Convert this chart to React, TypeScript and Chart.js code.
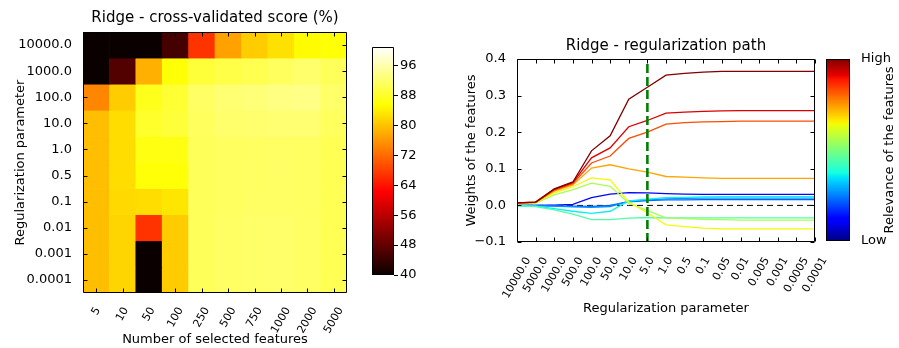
import React, { useEffect, useRef } from 'react';
import { Chart, registerables } from 'chart.js';

Chart.register(...registerables);

// ---------------- data ----------------
const FEATURE_COUNTS = ['5', '10', '50', '100', '250', '500', '750', '1000', '2000', '5000'];
const HEATMAP_ALPHAS = ['10000.0', '1000.0', '100.0', '10.0', '1.0', '0.5', '0.1', '0.01', '0.001', '0.0001'];

const SCORE_ALPHA_10000 = [40.0, 40.0, 40.0, 45.3, 66.9, 77.0, 80.9, 82.8, 85.2, 85.8];
const SCORE_ALPHA_1000 = [40.0, 46.5, 78.3, 85.8, 89.0, 89.8, 90.3, 91.2, 92.0, 91.0];
const SCORE_ALPHA_100 = [74.6, 80.9, 87.2, 88.6, 91.5, 92.4, 92.8, 93.4, 93.6, 91.8];
const SCORE_ALPHA_10 = [79.7, 82.4, 88.2, 89.0, 91.2, 92.0, 92.2, 92.4, 92.4, 91.2];
const SCORE_ALPHA_1 = [79.7, 82.4, 86.6, 86.6, 91.0, 91.3, 91.4, 91.6, 91.4, 90.6];
const SCORE_ALPHA_05 = [79.7, 82.4, 85.8, 85.8, 91.0, 91.3, 91.4, 91.6, 91.4, 90.6];
const SCORE_ALPHA_01 = [79.7, 82.0, 82.4, 83.2, 91.0, 91.3, 91.5, 91.6, 91.4, 90.6];
const SCORE_ALPHA_001 = [79.7, 81.7, 66.9, 80.9, 91.0, 91.5, 91.8, 91.9, 91.6, 90.6];
const SCORE_ALPHA_0001 = [79.7, 81.7, 40.0, 80.9, 91.0, 91.5, 91.8, 91.9, 91.6, 90.6];
const SCORE_ALPHA_00001 = [79.7, 81.7, 40.0, 80.9, 91.0, 91.5, 91.8, 91.9, 91.6, 90.6];
const SCORES = [
  SCORE_ALPHA_10000, SCORE_ALPHA_1000, SCORE_ALPHA_100, SCORE_ALPHA_10, SCORE_ALPHA_1,
  SCORE_ALPHA_05, SCORE_ALPHA_01, SCORE_ALPHA_001, SCORE_ALPHA_0001, SCORE_ALPHA_00001,
];
const SCORE_MIN = 40;
const SCORE_MAX = 101;
const SCORE_TICKS = [40, 48, 56, 64, 72, 80, 88, 96];

const PATH_ALPHAS = ['10000.0', '5000.0', '1000.0', '500.0', '100.0', '50.0', '10.0', '5.0', '1.0', '0.5', '0.1', '0.05', '0.01', '0.005', '0.001', '0.0005', '0.0001'];
const CHOSEN_ALPHA = '5.0';
const WEIGHT_MIN = -0.1;
const WEIGHT_MAX = 0.4;

const WEIGHTS_F1 = [0.007, 0.009, 0.045, 0.064, 0.149, 0.19, 0.29, 0.323, 0.356, 0.361, 0.364, 0.366, 0.366, 0.366, 0.366, 0.366, 0.366];
const WEIGHTS_F2 = [0.007, 0.009, 0.044, 0.062, 0.13, 0.157, 0.215, 0.232, 0.252, 0.255, 0.257, 0.258, 0.259, 0.259, 0.259, 0.259, 0.259];
const WEIGHTS_F3 = [0.006, 0.008, 0.042, 0.059, 0.116, 0.135, 0.183, 0.2, 0.222, 0.226, 0.228, 0.229, 0.23, 0.23, 0.23, 0.23, 0.23];
const WEIGHTS_F4 = [0.006, 0.008, 0.039, 0.056, 0.102, 0.111, 0.1, 0.091, 0.079, 0.077, 0.075, 0.074, 0.074, 0.074, 0.074, 0.074, 0.074];
const WEIGHTS_F5 = [0.005, 0.007, 0.034, 0.051, 0.075, 0.07, 0.009, -0.02, -0.053, -0.058, -0.062, -0.064, -0.064, -0.064, -0.064, -0.064, -0.064];
const WEIGHTS_F6 = [0.004, 0.006, 0.029, 0.043, 0.061, 0.052, 0.006, -0.014, -0.034, -0.036, -0.038, -0.039, -0.04, -0.04, -0.04, -0.04, -0.04];
const WEIGHTS_F7 = [-0.001, -0.003, -0.012, -0.024, -0.039, -0.039, -0.035, -0.033, -0.034, -0.034, -0.034, -0.034, -0.034, -0.034, -0.034, -0.034, -0.034];
const WEIGHTS_F8 = [-0.001, -0.002, -0.009, -0.016, -0.022, -0.016, 0.012, 0.017, 0.021, 0.022, 0.023, 0.024, 0.024, 0.024, 0.024, 0.024, 0.024];
const WEIGHTS_F9 = [0.0, -0.001, -0.002, -0.004, -0.005, -0.003, 0.011, 0.015, 0.018, 0.019, 0.02, 0.02, 0.02, 0.02, 0.02, 0.02, 0.02];
const WEIGHTS_F10 = [0.0, 0.0, -0.001, -0.002, -0.003, 0.0, 0.01, 0.013, 0.015, 0.015, 0.016, 0.016, 0.016, 0.016, 0.016, 0.016, 0.016];
const WEIGHTS_F11 = [0.0, 0.0, 0.001, 0.003, 0.021, 0.031, 0.035, 0.034, 0.032, 0.031, 0.03, 0.03, 0.03, 0.03, 0.03, 0.03, 0.03];
const WEIGHTS = [WEIGHTS_F1, WEIGHTS_F2, WEIGHTS_F3, WEIGHTS_F4, WEIGHTS_F5, WEIGHTS_F6, WEIGHTS_F7, WEIGHTS_F8, WEIGHTS_F9, WEIGHTS_F10, WEIGHTS_F11];
const RELEVANCE = [1.0, 0.92, 0.83, 0.735, 0.645, 0.555, 0.447, 0.36, 0.265, 0.22, 0.13];
const RELEVANCE_TICK_LABELS = ['Low', 'High'];

// ---------------- colormaps ----------------
type Seg = [number, number][];
type CMap = { r: Seg; g: Seg; b: Seg };
const HOT: CMap = {
  r: [[0, 0.0416], [0.365079, 1], [1, 1]],
  g: [[0, 0], [0.365079, 0], [0.746032, 1], [1, 1]],
  b: [[0, 0], [0.746032, 0], [1, 1]],
};
const JET: CMap = {
  r: [[0, 0], [0.35, 0], [0.66, 1], [0.89, 1], [1, 0.5]],
  g: [[0, 0], [0.125, 0], [0.375, 1], [0.64, 1], [0.91, 0], [1, 0]],
  b: [[0, 0.5], [0.11, 1], [0.34, 1], [0.65, 0], [1, 0]],
};
const interp = (seg: Seg, t: number) => {
  if (t <= seg[0][0]) return seg[0][1];
  for (let i = 1; i < seg.length; i++) {
    if (t <= seg[i][0]) {
      const [x0, y0] = seg[i - 1];
      const [x1, y1] = seg[i];
      return y0 + ((y1 - y0) * (t - x0)) / (x1 - x0);
    }
  }
  return seg[seg.length - 1][1];
};
const cmap = (m: CMap, t: number) => {
  const u = Math.max(0, Math.min(1, t));
  const c = (s: Seg) => Math.round(interp(s, u) * 255);
  return `rgb(${c(m.r)},${c(m.g)},${c(m.b)})`;
};
const gradientFill = (m: CMap) => (c: any) => {
  const chart = c.chart;
  const a = chart.chartArea;
  if (!a) return 'rgba(0,0,0,0)';
  const g = chart.ctx.createLinearGradient(0, a.bottom, 0, a.top);
  const stops = Array.from(new Set([...m.r, ...m.g, ...m.b].map((p) => p[0]))).sort((x, y) => x - y);
  stops.forEach((s) => g.addColorStop(s, cmap(m, s)));
  return g;
};

// ---------------- plugins ----------------
const FONT = '"DejaVu Sans", sans-serif';
Chart.defaults.font.family = FONT;
Chart.defaults.color = '#000';

const centered = new WeakSet<object>();
const centerRotatedTicks = {
  id: 'centerRotatedTicks',
  beforeDraw(chart: any) {
    const s: any = chart.scales.x;
    if (!s || !s.options.display || !s.labelRotation) return;
    const items = s.getLabelItems(chart.chartArea);
    if (centered.has(items)) return;
    centered.add(items);
    const ctx = chart.ctx;
    ctx.save();
    for (const it of items) {
      ctx.font = it.font.string;
      const w = ctx.measureText(String(it.label)).width;
      it.options.translation[0] += (Math.abs(Math.cos(it.options.rotation)) * w) / 2;
    }
    ctx.restore();
  },
};

const axesFrame = {
  id: 'axesFrame',
  afterDraw(chart: any, _args: any, opts: any) {
    const { ctx, chartArea: a } = chart;
    const len = 4;
    const L = Math.floor(a.left) + 0.5;
    const R = Math.ceil(a.right) - 0.5;
    const T = Math.floor(a.top) + 0.5;
    const B = Math.ceil(a.bottom) - 0.5;
    ctx.save();
    ctx.strokeStyle = '#000';
    ctx.lineWidth = 1;
    ctx.beginPath();
    if (opts && opts.ticks) {
      const xs: any = chart.scales.x;
      const ys: any = chart.scales.y;
      xs.ticks.forEach((_t: any, i: number) => {
        const px = Math.round(xs.getPixelForTick(i)) + 0.5;
        ctx.moveTo(px, T); ctx.lineTo(px, T + len);
        ctx.moveTo(px, B); ctx.lineTo(px, B - len);
      });
      ys.ticks.forEach((t: any) => {
        const py = Math.round(ys.getPixelForValue(t.value)) + 0.5;
        ctx.moveTo(L, py); ctx.lineTo(L + len, py);
        ctx.moveTo(R, py); ctx.lineTo(R - len, py);
      });
    }
    ctx.rect(L, T, R - L, B - T);
    ctx.stroke();
    ctx.restore();
  },
};

const sideLabel = {
  id: 'sideLabel',
  afterDraw(chart: any, _args: any, opts: any) {
    if (!opts || !opts.text) return;
    const { ctx, chartArea: a } = chart;
    ctx.save();
    ctx.font = `13px ${FONT}`;
    ctx.fillStyle = '#000';
    ctx.textAlign = 'center';
    ctx.textBaseline = 'middle';
    ctx.translate(opts.x, (a.top + a.bottom) / 2);
    ctx.rotate(-Math.PI / 2);
    ctx.fillText(opts.text, 0, 0);
    ctx.restore();
  },
};

const tickFont = { size: 13 };
const xTickFont = { size: 11 };
const labelFont = { size: 13 };
const titleFont = { size: 15, weight: 'normal' as const };
const X_ROTATION = 60;

// ---------------- configs ----------------
const heatmapConfig = (): any => ({
  type: 'bar',
  data: {
    labels: FEATURE_COUNTS,
    datasets: HEATMAP_ALPHAS.map((alpha, r) => {
      const level = HEATMAP_ALPHAS.length - 1 - r;
      return {
        label: alpha,
        data: FEATURE_COUNTS.map(() => [level, level + 1]),
        backgroundColor: SCORES[r].map((v) => cmap(HOT, (v - SCORE_MIN) / (SCORE_MAX - SCORE_MIN))),
        borderWidth: 0,
        barPercentage: 1,
        categoryPercentage: 1,
        grouped: false,
      };
    }),
  },
  plugins: [centerRotatedTicks, axesFrame],
  options: {
    responsive: false,
    animation: false,
    events: [],
    layout: { padding: { left: 0, right: 13, top: 0, bottom: 0 } },
    plugins: {
      legend: { display: false },
      tooltip: { enabled: false },
      title: {
        display: true, text: 'Ridge - cross-validated score (%)', fullSize: false,
        font: titleFont, color: '#000', padding: { top: 9.5, bottom: 4.5 },
      },
      axesFrame: { ticks: true },
    },
    scales: {
      x: {
        type: 'category', offset: true,
        grid: { display: false }, border: { display: false },
        ticks: { minRotation: X_ROTATION, maxRotation: X_ROTATION, autoSkip: false, padding: 4, font: xTickFont },
        title: { display: true, text: 'Number of selected features', font: labelFont, padding: { top: 0, bottom: 1 } },
        afterFit(s: any) { s.height = 55; s.paddingLeft = 0; s.paddingRight = 0; },
      },
      y: {
        type: 'linear', min: 0, max: HEATMAP_ALPHAS.length,
        grid: { display: false }, border: { display: false },
        afterBuildTicks(s: any) {
          s.ticks = HEATMAP_ALPHAS.map((_a, i) => ({ value: i + 0.5 }));
        },
        ticks: {
          padding: 3, font: tickFont,
          callback: (v: number) => HEATMAP_ALPHAS[Math.floor(HEATMAP_ALPHAS.length - v)],
        },
        title: { display: true, text: 'Regularization parameter', font: labelFont, padding: { top: 13, bottom: 0 } },
        afterFit(s: any) { s.width = 83; s.paddingTop = 0; s.paddingBottom = 0; },
      },
    },
  },
});

const scoreBarConfig = (): any => ({
  type: 'bar',
  data: {
    labels: ['score'],
    datasets: [{
      data: [[SCORE_MIN, SCORE_MAX]],
      backgroundColor: gradientFill(HOT),
      borderWidth: 0, barPercentage: 1, categoryPercentage: 1,
    }],
  },
  plugins: [axesFrame],
  options: {
    responsive: false, animation: false, events: [],
    layout: { padding: { left: 12, right: 0, top: 47, bottom: 73 } },
    plugins: { legend: { display: false }, tooltip: { enabled: false }, axesFrame: { ticks: false } },
    scales: {
      x: { display: false },
      y: {
        position: 'right', min: SCORE_MIN, max: SCORE_MAX,
        afterBuildTicks(s: any) { s.ticks = SCORE_TICKS.map((v) => ({ value: v })); },
        grid: { display: true, drawOnChartArea: false, drawTicks: true, tickLength: 4, color: '#000' },
        border: { display: false },
        ticks: { padding: 2, font: tickFont },
        afterFit(s: any) { s.width = 46; s.paddingTop = 0; s.paddingBottom = 0; },
      },
    },
  },
});

const pathConfig = (): any => ({
  type: 'line',
  data: {
    labels: PATH_ALPHAS,
    datasets: [
      {
        label: 'chosen alpha',
        data: [{ x: CHOSEN_ALPHA, y: WEIGHT_MIN }, { x: CHOSEN_ALPHA, y: WEIGHT_MAX }],
        borderColor: '#008000', borderWidth: 2.6, borderDash: [9, 4], pointRadius: 0, fill: false,
      },
      ...WEIGHTS.map((w, i) => ({
        label: `feature ${i + 1}`,
        data: w,
        borderColor: cmap(JET, RELEVANCE[i]),
        borderWidth: 1.3, pointRadius: 0, tension: 0, fill: false,
      })),
      {
        label: 'zero',
        data: PATH_ALPHAS.map(() => 0),
        borderColor: '#000', borderWidth: 1, borderDash: [6, 4], pointRadius: 0, fill: false,
      },
    ],
  },
  plugins: [centerRotatedTicks, axesFrame],
  options: {
    responsive: false, animation: false, events: [],
    layout: { padding: { left: 0, right: 25, top: 0, bottom: 0 } },
    plugins: {
      legend: { display: false },
      tooltip: { enabled: false },
      title: {
        display: true, text: 'Ridge - regularization path', fullSize: false,
        font: titleFont, color: '#000', padding: { top: 37, bottom: 4 },
      },
      axesFrame: { ticks: true },
    },
    scales: {
      x: {
        type: 'category', offset: false,
        grid: { display: false }, border: { display: false },
        ticks: { minRotation: X_ROTATION, maxRotation: X_ROTATION, autoSkip: false, padding: 5, font: xTickFont },
        title: { display: true, text: 'Regularization parameter', font: labelFont, padding: { top: 0, bottom: 32 } },
        afterFit(s: any) { s.height = 106; s.paddingLeft = 0; s.paddingRight = 0; },
      },
      y: {
        type: 'linear', min: WEIGHT_MIN, max: WEIGHT_MAX,
        grid: { display: false }, border: { display: false },
        ticks: {
          stepSize: 0.1, padding: 3, font: tickFont,
          callback: (v: number) => {
            const r = Math.round(v * 10) / 10;
            return (r < 0 ? '\u2212' : '') + Math.abs(r).toFixed(1);
          },
        },
        title: { display: true, text: 'Weights of the features', font: labelFont, padding: { top: 24, bottom: 0 } },
        afterFit(s: any) { s.width = 77; s.paddingTop = 0; s.paddingBottom = 0; },
      },
    },
  },
});

const relevanceBarConfig = (): any => ({
  type: 'bar',
  data: {
    labels: ['relevance'],
    datasets: [{
      data: [[0, 1]],
      backgroundColor: gradientFill(JET),
      borderWidth: 0, barPercentage: 1, categoryPercentage: 1,
    }],
  },
  plugins: [axesFrame, sideLabel],
  options: {
    responsive: false, animation: false, events: [],
    layout: { padding: { left: 6, right: 0, top: 59, bottom: 107 } },
    plugins: {
      legend: { display: false }, tooltip: { enabled: false },
      axesFrame: { ticks: false },
      sideLabel: { text: 'Relevance of the features', x: 70 },
    },
    scales: {
      x: { display: false },
      y: {
        position: 'right', min: 0, max: 1,
        afterBuildTicks(s: any) { s.ticks = RELEVANCE_TICK_LABELS.map((_l, i) => ({ value: i })); },
        grid: { display: false }, border: { display: false },
        ticks: { padding: 3, font: tickFont, callback: (v: number) => RELEVANCE_TICK_LABELS[Math.round(v)] },
        afterFit(s: any) { s.width = 49; s.paddingTop = 0; s.paddingBottom = 0; },
      },
    },
  },
});

// ---------------- component ----------------
function ChartCanvas({ make, left, width }: { make: () => any; left: number; width: number }) {
  const ref = useRef<HTMLCanvasElement | null>(null);
  useEffect(() => {
    if (!ref.current) return;
    const chart = new Chart(ref.current, make());
    return () => chart.destroy();
  }, []);
  return (
    <canvas
      ref={ref}
      width={width}
      height={348}
      style={{ position: 'absolute', left, top: 0, width, height: 348 }}
    />
  );
}

export default function App() {
  return (
    <div style={{ position: 'absolute', left: 0, top: 0, width: 899, height: 348, background: '#fff', overflow: 'hidden' }}>
      <ChartCanvas make={heatmapConfig} left={0} width={360} />
      <ChartCanvas make={scoreBarConfig} left={360} width={80} />
      <ChartCanvas make={pathConfig} left={440} width={400} />
      <ChartCanvas make={relevanceBarConfig} left={820} width={79} />
    </div>
  );
}
